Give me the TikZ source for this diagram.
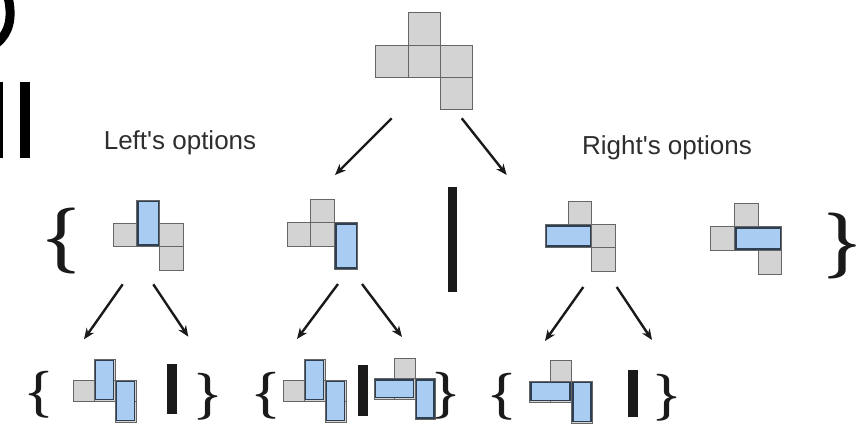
\documentclass[tikz,border=0pt]{standalone}
\usepackage{fontspec}
\newfontfamily\labelfont{Liberation Sans}
\usetikzlibrary{arrows.meta}
\definecolor{cellgray}{HTML}{D3D3D3}
\definecolor{celledge}{HTML}{666666}
\definecolor{domblue}{HTML}{A8CCF2}
\definecolor{domedge}{HTML}{2F3F52}
\definecolor{labelgray}{HTML}{2E2E2E}
\definecolor{inkblack}{HTML}{1A1A1A}
\newcommand\pentoshape[3]{\foreach \c/\r in {1/0,0/1,1/1,2/1,2/2}{\draw[cellbox] ({#1+\c*#3},{#2+\r*#3}) rectangle ++(#3,#3);}}
\newcommand\vdom[5]{\draw[dombox] ({#1+#4*#3+1.5},{#2+#5*#3+1.5}) rectangle ++({#3-3},{2*#3-3});}
\newcommand\hdom[5]{\draw[dombox] ({#1+#4*#3+1.5},{#2+#5*#3+1.5}) rectangle ++({2*#3-3},{#3-3});}
\begin{document}
\begin{tikzpicture}[x=1pt,y=-1pt,
  cellbox/.style={fill=cellgray,draw=celledge,line width=0.9pt},
  dombox/.style={fill=domblue,draw=domedge,line width=1.6pt},
  arr/.style={draw=inkblack,line width=2.4pt,-{Stealth[length=11pt,width=9pt]}},
  bar/.style={fill=inkblack},
  bracebig/.style={inner sep=0pt,text=inkblack,font=\bfseries\fontsize{66}{66}\selectfont},
  bracesmall/.style={inner sep=0pt,text=inkblack,font=\bfseries\fontsize{47}{47}\selectfont},
  optlabel/.style={inner sep=0pt,anchor=base,text=labelgray,font=\labelfont\fontsize{26}{26}\selectfont}]
\useasboundingbox[fill=white] (0,0) rectangle (862,427);
% edge fragments
\draw[line width=9pt,black] (8,-3) .. controls (13,18) and (9,33) .. (-3,43);
\fill[black] (-2,82) rectangle (3.3,158.3);
\fill[black] (20,82) rectangle (30,158.3);
% labels
\node[optlabel] (lefttxt) at (180,149.3) {Left\textquotesingle s options};
\node[optlabel] (righttxt) at (667,155) {Right\textquotesingle s options};
% top piece
\pentoshape{375.7}{12.7}{32.3}
% level 1
\pentoshape{113}{200}{23.4}\vdom{113}{200}{23.4}{1}{0}
\pentoshape{287.3}{199.3}{23.5}\vdom{287.3}{199.3}{23.5}{2}{1}
\pentoshape{545}{201}{23.4}\hdom{545}{201}{23.4}{0}{1}
\pentoshape{710.7}{203}{23.7}\hdom{710.7}{203}{23.7}{1}{1}
\fill[bar] (448.3,187.3) rectangle (456.7,291.7);
\node[bracebig] (lbrace) at (61,241) {\{};
\node[bracebig,anchor=east] (rbrace) at (862,246) {\}};
% level 2
\pentoshape{73}{359}{21}\vdom{73}{359}{21}{1}{0}\vdom{73}{359}{21}{2}{1}
\pentoshape{283}{359}{21}\vdom{283}{359}{21}{1}{0}\vdom{283}{359}{21}{2}{1}
\pentoshape{374}{358}{20.5}\hdom{374}{358}{20.5}{0}{1}\vdom{374}{358}{20.5}{2}{1}
\pentoshape{529.5}{360}{21}\hdom{529.5}{360}{21}{0}{1}\vdom{529.5}{360}{21}{2}{1}
\fill[bar] (166.7,364) rectangle (176.7,414);
\fill[bar] (358.3,365) rectangle (368.3,416);
\fill[bar] (628.3,370) rectangle (638.3,416.7);
\node[bracesmall] (ob1) at (39,395) {\{};
\node[bracesmall] (cb1) at (208,397) {\}};
\node[bracesmall] (ob2) at (266.5,396) {\{};
\node[bracesmall] (cb2) at (446,396) {\}};
\node[bracesmall] (ob3) at (501.7,396.5) {\{};
\node[bracesmall] (cb3) at (666.7,397.5) {\}};
% arrow ends
\coordinate (top-l) at (391.7,118.3);
\coordinate (top-r) at (461.7,118.3);
\coordinate (m1-in) at (335,175);
\coordinate (r1-in) at (506.7,175);
\coordinate (l1-l) at (122.7,284.3);
\coordinate (l1-r) at (153.3,284.3);
\coordinate (l1-a) at (84,339.3);
\coordinate (l1-b) at (188.3,336.7);
\coordinate (m1-l) at (338,284);
\coordinate (m1-r) at (362,284);
\coordinate (m1-a) at (297,339);
\coordinate (m1-b) at (402,337);
\coordinate (r1-l) at (583.3,287);
\coordinate (r1-r) at (616.7,287);
\coordinate (r1-a) at (545,341);
\coordinate (r1-b) at (652,340);
\draw[arr] (top-l) -- (m1-in);
\draw[arr] (top-r) -- (r1-in);
\draw[arr] (l1-l) -- (l1-a);
\draw[arr] (l1-r) -- (l1-b);
\draw[arr] (m1-l) -- (m1-a);
\draw[arr] (m1-r) -- (m1-b);
\draw[arr] (r1-l) -- (r1-a);
\draw[arr] (r1-r) -- (r1-b);
\end{tikzpicture}
\end{document}
